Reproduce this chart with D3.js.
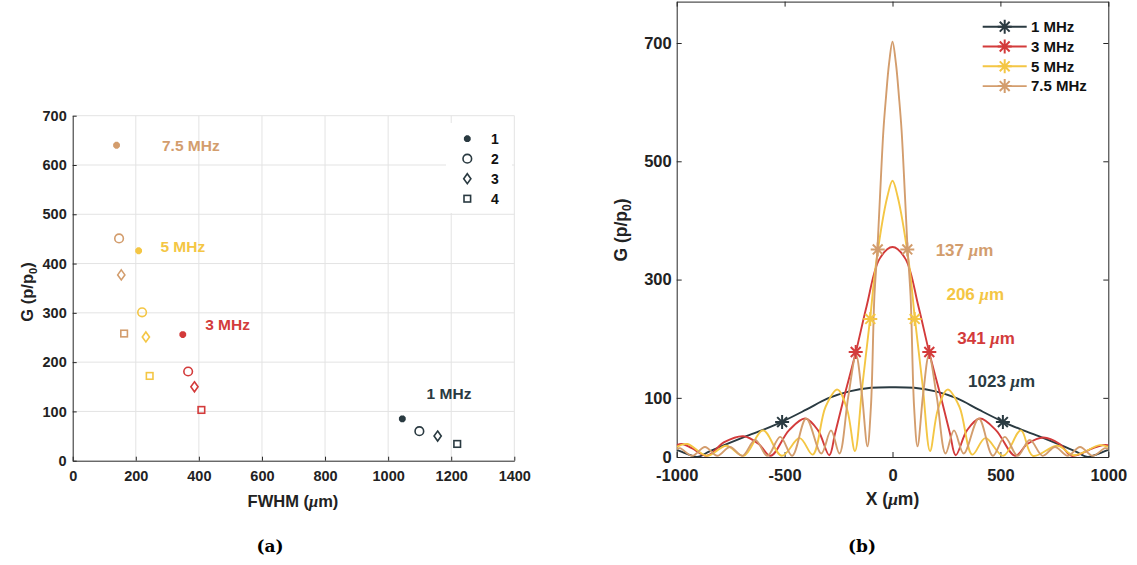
<!DOCTYPE html>
<html>
<head>
<meta charset="utf-8">
<script src="https://cdn.jsdelivr.net/npm/d3@7"></script>
<style>
  body { margin: 0; background: #fff; }
  svg { display: block; }
  text { font-family: 'Liberation Sans', Arial, sans-serif; font-weight: bold; }
  .mu { font-family: 'Liberation Serif', 'DejaVu Serif', serif; font-style: italic; }
</style>
</head>
<body>
<svg id="chart" width="1137" height="565"></svg>
<script>
// ---- panel (a) data: FWHM vs gain, four cases per frequency
const freqLabels = ['7.5 MHz', '5 MHz', '3 MHz', '1 MHz'];
const caseNames = ['1', '2', '3', '4'];
const fwhmCase1 = [139, 209, 349, 1045];
const gainCase1 = [640, 426, 256, 85];
const fwhmCase2 = [147, 220, 366, 1099];
const gainCase2 = [451, 301, 181, 60];
const fwhmCase3 = [154, 232, 386, 1157];
const gainCase3 = [377, 251, 150, 50];
const fwhmCase4 = [163, 244, 408, 1219];
const gainCase4 = [258, 172, 103, 34];
const labelX = [283, 278, 420, 1122];
const labelY = [640, 435, 277, 137];

// ---- panel (b) data: lateral profiles
const curveNames = ['1 MHz', '3 MHz', '5 MHz', '7.5 MHz'];
const x1MHz = [-1000, -950, -905, -850, -800, -700, -600, -510, -400, -300, -200, -100, 0,
  100, 200, 300, 400, 510, 600, 700, 800, 850, 905, 950, 1000];
const g1MHz = [12, 5, 0, 9, 17, 32, 46, 60, 80, 99, 111, 117, 118,
  117, 111, 99, 80, 60, 46, 32, 17, 9, 0, 5, 12];

const x3MHz = [-1000, -975, -930, -860, -780, -690, -620, -565, -480, -405, -345, -293, -266, -228,
  -170, -120, -60, 0, 60, 120, 170, 228, 266, 293, 345, 405, 480, 568, 625, 699, 775, 830, 930, 975, 1000];
const g3MHz = [20, 22, 15, 2, 25, 35, 22, 2, 45, 65, 45, 3, 40, 96,
  177, 255, 335, 355, 335, 255, 177, 96, 40, 3, 45, 65, 45, 2, 22, 33, 22, 2, 15, 20, 20];

const x5MHz = [-1000, -950, -860, -770, -690, -600, -513, -430, -370, -310, -255, -210, -174, -140,
  -104, -76, -24, 0, 24, 76, 104, 140, 174, 210, 255, 310, 370, 430, 513, 595, 650, 765, 840, 960, 1000];
const g5MHz = [17, 22, 2, 19, 2, 45, 2, 32, 4, 85, 114, 80, 10, 120,
  233, 328, 440, 467, 440, 328, 233, 120, 10, 80, 114, 85, 4, 32, 2, 45, 2, 19, 3, 20, 17];

const x75MHz = [-1000, -985, -928, -869, -812, -753, -696, -636, -580, -520, -465, -400, -330, -285,
  -246, -205, -169, -143, -116, -100, -84, -70, -58, -42, -30, -16, 0,
  16, 30, 42, 58, 70, 84, 100, 116, 143, 169, 205, 246, 285, 330, 400, 465, 520, 580, 636, 696,
  753, 812, 869, 928, 985, 1000];
const g75MHz = [13, 15, 2, 17, 2, 17, 2, 29, 2, 34, 2, 65, 6, 45,
  6, 102, 172, 110, 18, 85, 271, 351, 440, 553, 609, 665, 702,
  665, 609, 553, 440, 351, 271, 85, 18, 110, 172, 102, 6, 45, 6, 65, 2, 34, 2, 29, 2,
  17, 2, 17, 2, 15, 13];

const fwhmWidths = [1023, 341, 206, 137];
const halfMax = [59, 177.5, 233.5, 351];
const widthLabelX = [350, 300, 250, 200];
const widthLabelY = [128, 201, 275, 350];

const colors = ['#2a3a41', '#d33b3b', '#f4c644', '#d39d6d'];
const gridColor = '#e3e3e3';
const axisColor = '#262626';

const svg = d3.select('#chart');

// asterisk marker path centred on 0,0
function starPath(r) {
  const d = r * Math.SQRT1_2;
  return `M${-r},0L${r},0M0,${-r}L0,${r}M${-d},${-d}L${d},${d}M${-d},${d}L${d},${-d}`;
}

// ================= panel (a) =================
const xA = d3.scaleLinear([0, 1400], [72.7, 514.3]);
const yA = d3.scaleLinear([0, 700], [460.7, 115.7]);
const gA = svg.append('g');

gA.append('g').selectAll('line').data(d3.range(200, 1401, 200)).join('line')
  .attr('x1', d => xA(d)).attr('x2', d => xA(d))
  .attr('y1', yA(0)).attr('y2', yA(700))
  .attr('stroke', gridColor);
gA.append('g').selectAll('line').data(d3.range(100, 701, 100)).join('line')
  .attr('x1', xA(0)).attr('x2', xA(1400))
  .attr('y1', d => yA(d)).attr('y2', d => yA(d))
  .attr('stroke', gridColor);

const axA_x = gA.append('g').attr('transform', `translate(0,${yA(0)})`)
  .call(d3.axisBottom(xA).tickValues(d3.range(0, 1401, 200)).tickSize(-4).tickSizeOuter(0)
    .tickPadding(10).tickFormat(d3.format('d')));
const axA_y = gA.append('g').attr('transform', `translate(${xA(0)},0)`)
  .call(d3.axisLeft(yA).tickValues(d3.range(0, 701, 100)).tickSize(-4).tickSizeOuter(0).tickPadding(6));
[axA_x, axA_y].forEach(ax => {
  ax.select('.domain').attr('stroke', axisColor);
  ax.selectAll('.tick line').attr('stroke', axisColor);
  ax.selectAll('text').attr('font-size', 14.5).attr('fill', '#222')
    .style('font-family', "'Liberation Sans', Arial, sans-serif").style('font-weight', 'bold');
});

// legend box (covers grid)
gA.append('rect').attr('x', 446).attr('y', 123).attr('width', 66).attr('height', 90).attr('fill', '#fff');

const caseFwhm = [fwhmCase1, fwhmCase2, fwhmCase3, fwhmCase4];
const caseGain = [gainCase1, gainCase2, gainCase3, gainCase4];
const markerColorOrder = [colors[3], colors[2], colors[1], colors[0]];

function drawMarker(sel, k, cx, cy, col, lw) {
  if (k === 0) {
    sel.append('path').attr('d', starPath(3.4)).attr('transform', `translate(${cx},${cy})`)
      .attr('stroke', col).attr('stroke-width', 2.6).attr('fill', 'none');
    sel.append('circle').attr('cx', cx).attr('cy', cy).attr('r', 2.4).attr('fill', col);
  } else if (k === 1) {
    sel.append('circle').attr('cx', cx).attr('cy', cy).attr('r', 4.3)
      .attr('fill', 'none').attr('stroke', col).attr('stroke-width', lw);
  } else if (k === 2) {
    sel.append('path').attr('d', `M${cx},${cy - 5}L${cx + 3.6},${cy}L${cx},${cy + 5}L${cx - 3.6},${cy}Z`)
      .attr('fill', 'none').attr('stroke', col).attr('stroke-width', lw);
  } else {
    sel.append('rect').attr('x', cx - 3.3).attr('y', cy - 3.3).attr('width', 6.6).attr('height', 6.6)
      .attr('fill', 'none').attr('stroke', col).attr('stroke-width', lw);
  }
}

caseFwhm.forEach((fw, k) => {
  fw.forEach((v, i) => drawMarker(gA, k, xA(v), yA(caseGain[k][i]), markerColorOrder[i], 1.6));
});

gA.selectAll('.flabel').data(freqLabels).join('text').attr('class', 'flabel')
  .attr('x', (d, i) => xA(labelX[i])).attr('y', (d, i) => yA(labelY[i]))
  .attr('dy', '0.35em').attr('font-size', 15.5)
  .attr('fill', (d, i) => markerColorOrder[i]).text(d => d);

caseNames.forEach((c, k) => {
  const cy = 138.7 + k * 20;
  drawMarker(gA, k, 467.3, cy, colors[0], 1.6);
  gA.append('text').attr('x', 491).attr('y', cy).attr('dy', '0.35em')
    .attr('font-size', 14).attr('fill', '#111').text(c);
});

const labA_x = gA.append('text').attr('x', 293).attr('y', 507).attr('text-anchor', 'middle')
  .attr('font-size', 16.5).attr('fill', '#222');
labA_x.append('tspan').text('FWHM (');
labA_x.append('tspan').attr('class', 'mu').text('μ');
labA_x.append('tspan').text('m)');

const labA_y = gA.append('text').attr('transform', 'translate(33,292) rotate(-90)')
  .attr('text-anchor', 'middle').attr('font-size', 16.5).attr('fill', '#222');
labA_y.append('tspan').text('G (p/p');
labA_y.append('tspan').attr('font-size', 11).attr('dy', 4).text('0');
labA_y.append('tspan').attr('dy', -4).text(')');

svg.append('text').attr('x', 270).attr('y', 552).attr('text-anchor', 'middle')
  .style('font-family', "'DejaVu Serif', serif").attr('font-size', 17).attr('fill', '#000').text('(a)');

// ================= panel (b) =================
const xB = d3.scaleLinear([-1000, 1000], [676.7, 1108.3]);
const yB = d3.scaleLinear([0, 770], [457, 1.6]);
const gB = svg.append('g');

gB.append('clipPath').attr('id', 'clipB').append('rect')
  .attr('x', xB(-1000)).attr('y', yB(770)).attr('width', xB(1000) - xB(-1000)).attr('height', yB(0) - yB(770));

const xTicksB = [-1000, -500, 0, 500, 1000];
const yTicksB = [0, 100, 300, 500, 700];

const axB = [
  gB.append('g').attr('transform', `translate(0,${yB(0)})`)
    .call(d3.axisBottom(xB).tickValues(xTicksB).tickSize(-5).tickSizeOuter(0).tickPadding(12).tickFormat(d3.format('d'))),
  gB.append('g').attr('transform', `translate(${xB(-1000)},0)`)
    .call(d3.axisLeft(yB).tickValues(yTicksB).tickSize(-5).tickSizeOuter(0).tickPadding(5)),
  gB.append('g').attr('transform', `translate(0,${yB(770)})`)
    .call(d3.axisTop(xB).tickValues(xTicksB).tickSize(-5).tickSizeOuter(0).tickFormat('')),
  gB.append('g').attr('transform', `translate(${xB(1000)},0)`)
    .call(d3.axisRight(yB).tickValues(yTicksB).tickSize(-5).tickSizeOuter(0).tickFormat(''))
];
axB.forEach(ax => {
  ax.select('.domain').attr('stroke', axisColor);
  ax.selectAll('.tick line').attr('stroke', axisColor);
  ax.selectAll('text').attr('font-size', 16.5).attr('fill', '#222')
    .style('font-family', "'Liberation Sans', Arial, sans-serif").style('font-weight', 'bold');
});
axB[0].selectAll('text').text(d => d < 0 ? '-' + Math.abs(d) : d);

const curvesX = [x1MHz, x3MHz, x5MHz, x75MHz];
const curvesG = [g1MHz, g3MHz, g5MHz, g75MHz];
const line = d3.line().x(d => xB(d[0])).y(d => yB(d[1])).curve(d3.curveCatmullRom.alpha(0.5));

const plotB = gB.append('g').attr('clip-path', 'url(#clipB)');
curvesX.forEach((xs, k) => {
  const pts = xs.map((x, i) => [x, curvesG[k][i]]);
  plotB.append('path').datum(pts).attr('d', line)
    .attr('fill', 'none').attr('stroke', colors[k]).attr('stroke-width', 1.9);
});
fwhmWidths.forEach((w, k) => {
  [-w / 2, w / 2].forEach(x => {
    plotB.append('path').attr('d', starPath(7))
      .attr('transform', `translate(${xB(x)},${yB(halfMax[k])})`)
      .attr('stroke', colors[k]).attr('stroke-width', 2).attr('fill', 'none');
  });
});

// width annotations
fwhmWidths.forEach((w, k) => {
  const t = gB.append('text').attr('x', xB(widthLabelX[k])).attr('y', yB(widthLabelY[k]))
    .attr('dy', '0.35em').attr('font-size', 17).attr('fill', colors[k]);
  t.append('tspan').text(w + ' ');
  t.append('tspan').attr('class', 'mu').text('μ');
  t.append('tspan').text('m');
});

// legend
curveNames.forEach((n, k) => {
  const cy = 26.7 + k * 19.8;
  gB.append('line').attr('x1', 982.7).attr('x2', 1026.7).attr('y1', cy).attr('y2', cy)
    .attr('stroke', colors[k]).attr('stroke-width', 1.9);
  gB.append('path').attr('d', starPath(7)).attr('transform', `translate(1004.7,${cy})`)
    .attr('stroke', colors[k]).attr('stroke-width', 2).attr('fill', 'none');
  gB.append('text').attr('x', 1031).attr('y', cy).attr('dy', '0.35em')
    .attr('font-size', 15).attr('fill', '#111').text(n);
});

const labB_x = gB.append('text').attr('x', xB(0)).attr('y', 505).attr('text-anchor', 'middle')
  .attr('font-size', 17.5).attr('fill', '#222');
labB_x.append('tspan').text('X (');
labB_x.append('tspan').attr('class', 'mu').text('μ');
labB_x.append('tspan').text('m)');

const labB_y = gB.append('text').attr('transform', 'translate(627,230) rotate(-90)')
  .attr('text-anchor', 'middle').attr('font-size', 17.5).attr('fill', '#222');
labB_y.append('tspan').text('G (p/p');
labB_y.append('tspan').attr('font-size', 12).attr('dy', 4).text('0');
labB_y.append('tspan').attr('dy', -4).text(')');

svg.append('text').attr('x', 862).attr('y', 552).attr('text-anchor', 'middle')
  .style('font-family', "'DejaVu Serif', serif").attr('font-size', 17).attr('fill', '#000').text('(b)');
</script>
</body>
</html>
